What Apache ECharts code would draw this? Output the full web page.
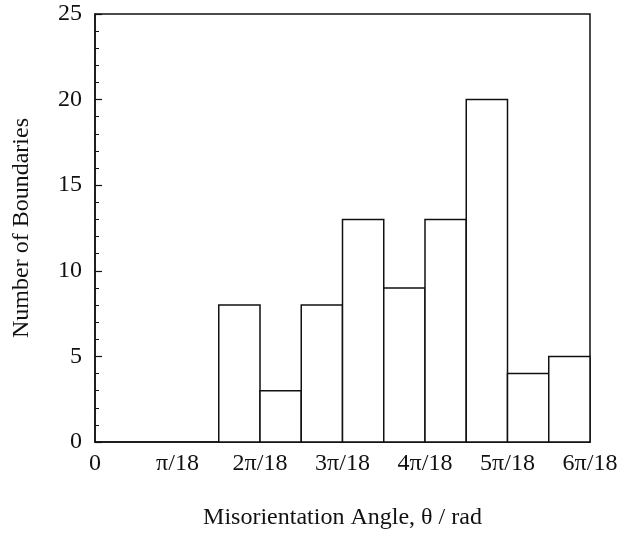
<!DOCTYPE html>
<html>
<head>
<meta charset="utf-8">
<script src="https://cdn.jsdelivr.net/npm/echarts@6/dist/echarts.min.js"></script>
<style>
  html, body { margin: 0; padding: 0; background: #fff; }
  #chart { width: 635px; height: 535px; }
</style>
</head>
<body>
<div id="chart"></div>
<script>
// bin edges in units of pi/18
var binStart = [1.5, 2, 2.5, 3, 3.5, 4, 4.5, 5, 5.5];
var binEnd = [2, 2.5, 3, 3.5, 4, 4.5, 5, 5.5, 6];
var counts = [8, 3, 8, 13, 9, 13, 20, 4, 5];
var xTickLabels = ['0', 'π/18', '2π/18', '3π/18', '4π/18', '5π/18', '6π/18'];

var font = '"Liberation Serif", "DejaVu Serif", serif';

var chart = echarts.init(document.getElementById('chart'));

var bins = binStart.map(function (s, i) {
    return [s, binEnd[i], counts[i]];
});

chart.setOption({
    backgroundColor: '#fff',
    animation: false,
    grid: {
        left: 95,
        right: 45,
        top: 14,
        bottom: 92,
        show: true,
        borderColor: '#111',
        borderWidth: 1.5,
        backgroundColor: 'transparent'
    },
    xAxis: {
        type: 'value',
        min: 0,
        max: 6,
        interval: 1,
        splitLine: { show: false },
        axisLine: { lineStyle: { color: '#111', width: 1.5 } },
        axisTick: { show: false },
        axisLabel: {
            margin: 10,
            color: '#111',
            fontFamily: font,
            fontSize: 24,
            formatter: function (v) { return xTickLabels[Math.round(v)]; }
        },
        name: 'Misorientation Angle, θ / rad',
        nameLocation: 'middle',
        nameGap: 64,
        nameTextStyle: { color: '#111', fontFamily: font, fontSize: 24 }
    },
    yAxis: {
        type: 'value',
        min: 0,
        max: 25,
        interval: 5,
        splitLine: { show: false },
        axisLine: { show: true, lineStyle: { color: '#111', width: 1.5 } },
        axisTick: { show: true, inside: true, length: 7, lineStyle: { color: '#111', width: 1.2 } },
        minorTick: { show: true, splitNumber: 5, length: 4, lineStyle: { color: '#111', width: 1 } },
        axisLabel: {
            margin: 13,
            color: '#111',
            fontFamily: font,
            fontSize: 24
        },
        name: 'Number of Boundaries',
        nameLocation: 'middle',
        nameGap: 61,
        nameTextStyle: { color: '#111', fontFamily: font, fontSize: 24 }
    },
    series: [{
        type: 'custom',
        data: bins,
        encode: { x: [0, 1], y: 2 },
        renderItem: function (params, api) {
            var p0 = api.coord([api.value(0), 0]);
            var p1 = api.coord([api.value(1), api.value(2)]);
            return {
                type: 'rect',
                shape: { x: p0[0], y: p1[1], width: p1[0] - p0[0], height: p0[1] - p1[1] },
                style: { fill: '#fff', stroke: '#111', lineWidth: 1.5 }
            };
        }
    }]
});
</script>
</body>
</html>
